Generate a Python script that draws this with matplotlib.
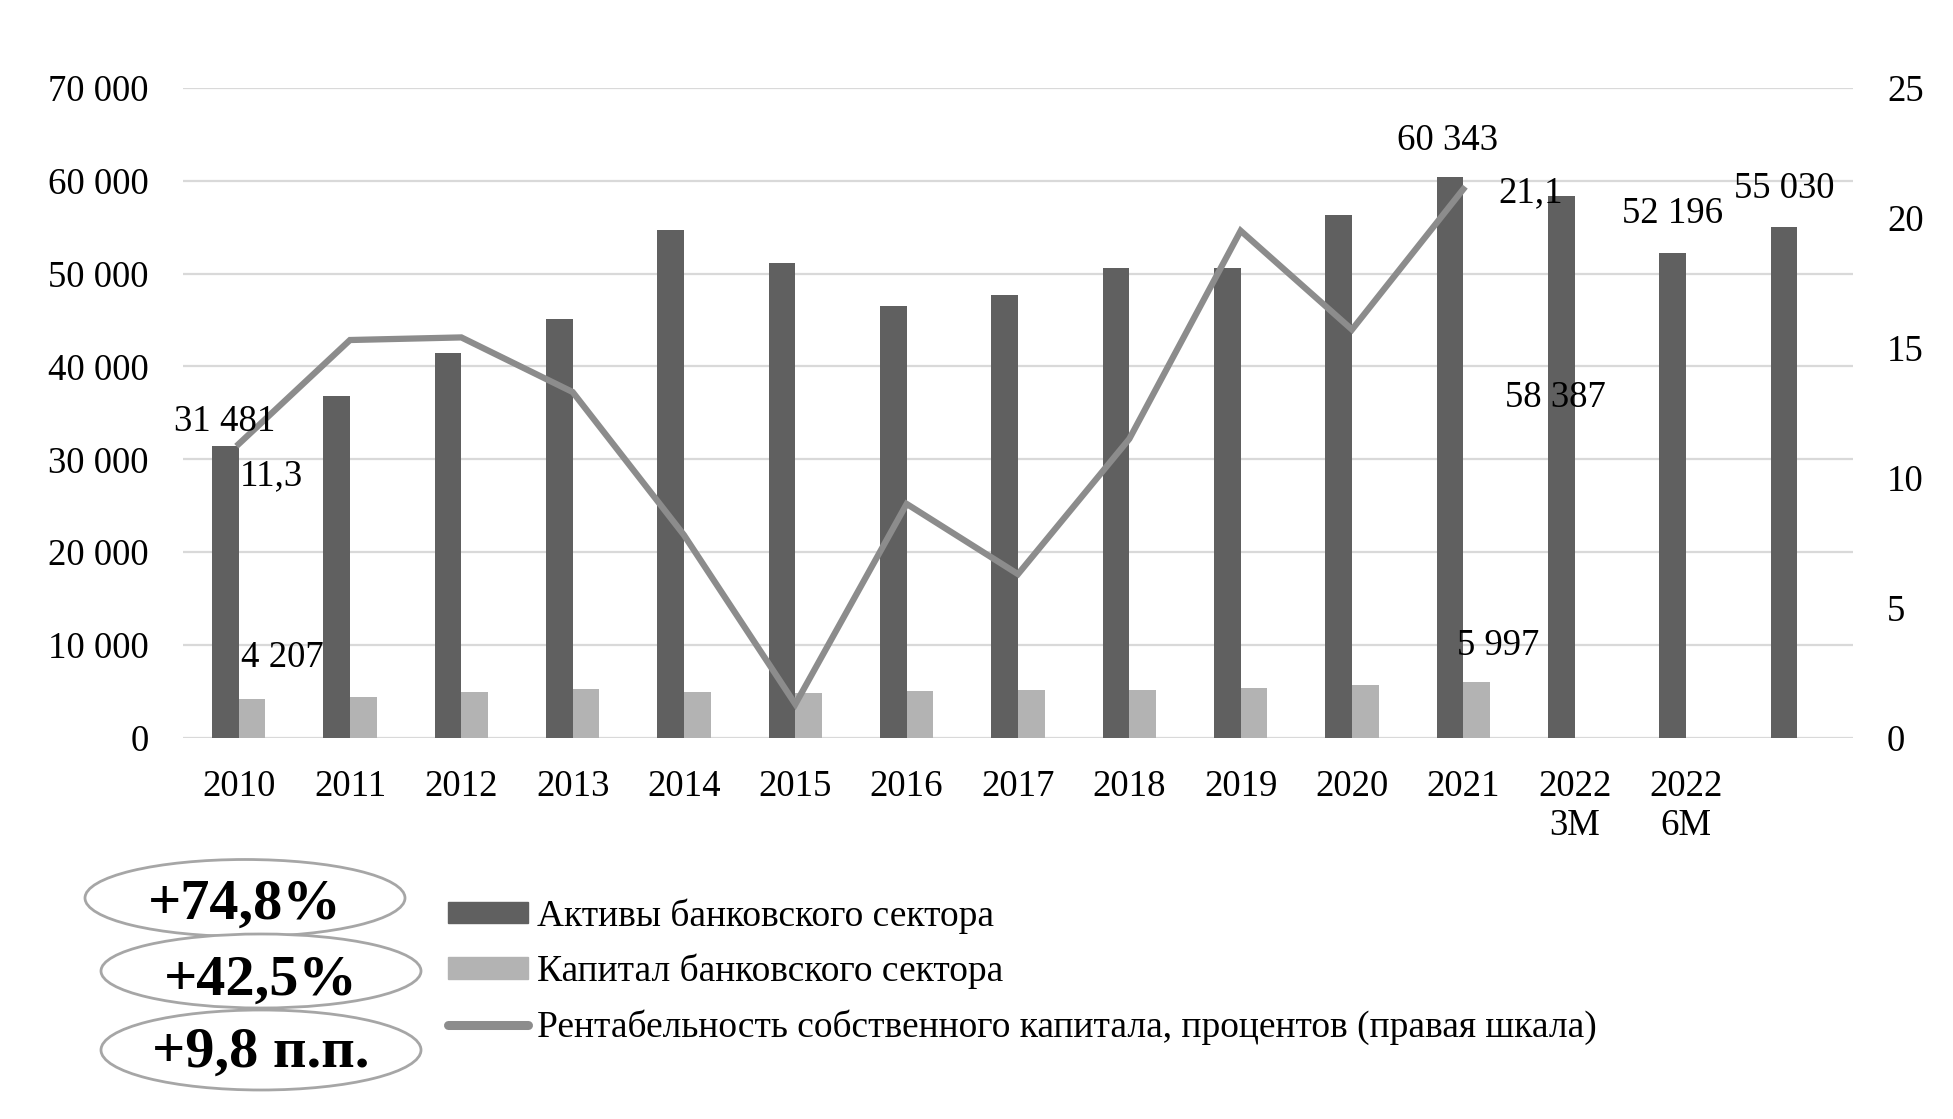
import numpy as np
import matplotlib
matplotlib.use("Agg")
import matplotlib.pyplot as plt
from matplotlib.patches import Ellipse, Patch
from matplotlib.lines import Line2D
from matplotlib.ticker import FuncFormatter

plt.rcParams['font.family'] = ['Liberation Serif', 'DejaVu Serif']

# --- данные ---
categories = ['2010', '2011', '2012', '2013', '2014', '2015', '2016', '2017', '2018',
              '2019', '2020', '2021', '2022\n3M', '2022\n6M', '']
aktivy = [31481, 36800, 41400, 45100, 54700, 51100, 46500, 47700, 50600, 50550,
          56300, 60343, 58387, 52196, 55030]
kapital = [4207, 4400, 4950, 5230, 4950, 4800, 5050, 5160, 5160, 5380, 5700, 5997]
roe = [11.3, 15.3, 15.4, 13.3, 7.8, 1.3, 9.0, 6.3, 11.5, 19.5, 15.7, 21.1]

legend_labels = ['Активы банковского сектора',
                 'Капитал банковского сектора',
                 'Рентабельность собственного капитала, процентов (правая шкала)']
badges = ['+74,8%', '+42,5%', '+9,8 п.п.']

# подписи: (индекс, смещение в пикселях)
aktivy_labels = [(0, -1, 24), (11, -2, 37), (12, -6, -202), (13, 0, 39), (14, 0, 38)]
kapital_labels = [(0, 30, 41), (11, 21, 37)]
roe_labels = [(0, 33, -32), (11, 67, -4)]

c_dark = '#606060'
c_light = '#b3b3b3'
c_line = '#8c8c8c'
c_grid = '#d9d9d9'
fs = 26.5


def fmt(v):
    return f"{int(v):,}".replace(",", " ")


W, H = 1953, 1119
fig = plt.figure(figsize=(W / 100, H / 100), dpi=100)
ax = fig.add_axes([183 / W, 1 - 738 / H, (1853 - 183) / W, (738 - 87.7) / H])

x = np.arange(len(categories))
bw = 0.24
ax.bar(x - bw / 2, aktivy, width=bw, color=c_dark, zorder=2)
ax.bar(x[:len(kapital)] + bw / 2, kapital, width=bw, color=c_light, zorder=2)

ax.set_xlim(-0.5, len(categories) - 0.5)
ax.set_ylim(0, 70000)
ax.set_yticks(np.arange(0, 70001, 10000))
ax.yaxis.set_major_formatter(FuncFormatter(lambda v, p: fmt(v)))
ax.set_xticks(x)
ax.set_xticklabels(categories, linespacing=1.15)
ax.grid(axis='y', color=c_grid, linewidth=1.6, zorder=0)
ax.set_axisbelow(True)
for s in ax.spines.values():
    s.set_visible(False)
ax.tick_params(axis='y', length=0, pad=24.5, labelsize=fs)
ax.tick_params(axis='x', length=0, pad=23, labelsize=fs)

ax2 = ax.twinx()
ax2.plot(x[:len(roe)], roe, color=c_line, linewidth=4.5, solid_joinstyle='miter', zorder=3)
ax2.set_ylim(0, 25)
ax2.set_yticks(np.arange(0, 26, 5))
for s in ax2.spines.values():
    s.set_visible(False)
ax2.tick_params(axis='y', length=0, pad=24.5, labelsize=fs)

# подписи данных
lfs = 26.5
for i, dx, dy in aktivy_labels:
    ax2.annotate(fmt(aktivy[i]), xy=(x[i] - bw / 2, aktivy[i] / 2800), xytext=(dx, dy),
                 textcoords='offset pixels', ha='center', va='center', fontsize=lfs, zorder=5)
for i, dx, dy in kapital_labels:
    ax2.annotate(fmt(kapital[i]), xy=(x[i] + bw / 2, kapital[i] / 2800), xytext=(dx, dy),
                 textcoords='offset pixels', ha='center', va='center', fontsize=lfs, zorder=5)
for i, dx, dy in roe_labels:
    ax2.annotate(f"{roe[i]:.1f}".replace('.', ','), xy=(x[i], roe[i]), xytext=(dx, dy),
                 textcoords='offset pixels', ha='center', va='center', fontsize=lfs, zorder=5)

# легенда
handles = [Patch(color=c_dark), Patch(color=c_light),
           Line2D([], [], color=c_line, linewidth=6.5, solid_capstyle='round')]
fig.legend(handles, legend_labels, loc='upper left', bbox_to_anchor=(448 / W, 1 - 898 / H),
           frameon=False, fontsize=27, handlelength=2.13, handleheight=0.5,
           handletextpad=0.24, labelspacing=0.54, borderpad=0, borderaxespad=0)

# овалы с приростами
ell = [(245, 898, 77), (261, 971, 74), (261, 1050, 80)]
for (cx, cy, eh), txt in zip(ell, badges):
    fig.add_artist(Ellipse((cx / W, 1 - cy / H), 320 / W, eh / H, transform=fig.transFigure,
                           facecolor='white', edgecolor='#a6a6a6', linewidth=2))
for (cx, cy, eh), txt, ty in zip(ell, badges, [905, 981, 1053]):
    fig.text(cx / W, 1 - ty / H, txt, ha='center', va='center', fontsize=42,
             fontweight='bold')

fig.savefig('out.png', dpi=100, facecolor='white')
